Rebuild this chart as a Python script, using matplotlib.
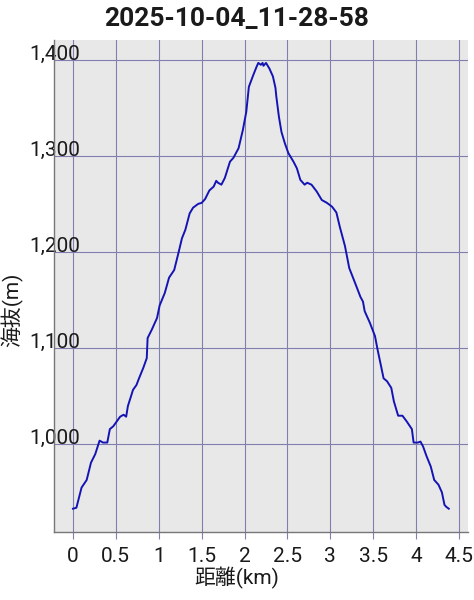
import matplotlib
matplotlib.use("Agg")
import matplotlib.pyplot as plt

# Data (distance km, elevation m)
dist_km = [0.00, 0.04, 0.10, 0.16, 0.21, 0.26, 0.31, 0.35, 0.40, 0.43, 0.47, 0.55, 0.59, 0.62,
           0.64, 0.70, 0.74, 0.77, 0.82, 0.86, 0.87, 0.92, 0.98, 1.01, 1.07, 1.12, 1.18, 1.23,
           1.27, 1.31, 1.36, 1.40, 1.46, 1.50, 1.54, 1.59, 1.64, 1.67, 1.69, 1.73, 1.77, 1.83,
           1.87, 1.93, 1.98, 2.02, 2.05, 2.10, 2.14, 2.16, 2.19, 2.21, 2.22, 2.25, 2.29, 2.33,
           2.36, 2.37, 2.40, 2.43, 2.47, 2.51, 2.57, 2.61, 2.65, 2.70, 2.73, 2.78, 2.84, 2.90,
           2.96, 3.02, 3.07, 3.11, 3.17, 3.22, 3.29, 3.35, 3.38, 3.40, 3.46, 3.52, 3.55, 3.59,
           3.62, 3.66, 3.71, 3.74, 3.79, 3.84, 3.89, 3.95, 3.97, 4.02, 4.05, 4.08, 4.12, 4.17,
           4.21, 4.26, 4.30, 4.33, 4.35, 4.38]
elev_m = [932, 933, 954, 962, 980, 989, 1003, 1001, 1001, 1015, 1018, 1028, 1030, 1028,
          1039, 1056, 1061, 1068, 1079, 1089, 1110, 1119, 1131, 1144, 1157, 1173, 1181, 1199,
          1214, 1223, 1240, 1246, 1250, 1251, 1255, 1264, 1268, 1274, 1272, 1270, 1277, 1294,
          1298, 1308, 1327, 1346, 1372, 1384, 1393, 1397, 1395, 1397, 1394, 1397, 1391, 1383,
          1371, 1362, 1341, 1325, 1313, 1303, 1294, 1287, 1275, 1270, 1272, 1270, 1263, 1254,
          1251, 1247, 1241, 1226, 1206, 1183, 1167, 1153, 1148, 1138, 1126, 1112, 1098, 1081,
          1068, 1065, 1058, 1044, 1029, 1029, 1023, 1015, 1001, 1001, 1002, 997, 987, 976,
          962, 957, 949, 936, 934, 932]

x_ticks = [0, 0.5, 1, 1.5, 2, 2.5, 3, 3.5, 4, 4.5]
x_tick_labels = ["0", "0.5", "1", "1.5", "2", "2.5", "3", "3.5", "4", "4.5"]
y_ticks = [1000, 1100, 1200, 1300, 1400]
y_tick_labels = ["1,000", "1,100", "1,200", "1,300", "1,400"]
title = "2025-10-04_11-28-58"
x_label = "距離(km)"
y_label = "海抜(m)"

plt.rcParams['font.family'] = ['Roboto', 'Noto Sans CJK JP', 'DejaVu Sans']

fig = plt.figure(figsize=(4.74, 6.0), dpi=100)
ax = fig.add_axes([54/474, 1-532/600, (468-54)/474, (532-40)/600])
ax.set_facecolor('#e8e8e8')

grid_c = '#8080b0'
ax.plot(dist_km, elev_m, color='#1414b4', lw=1.4)
ax.set_xlim(-0.221, 4.604)
ax.set_ylim(907.7, 1420.9)
ax.set_xticks(x_ticks)
ax.set_xticklabels(x_tick_labels, fontsize=15, color='#1a1a1a')
ax.set_yticks(y_ticks)
ax.set_yticklabels(y_tick_labels, fontsize=15, color='#1a1a1a', va='baseline')
ax.grid(True, color=grid_c, lw=0.8)
ax.set_axisbelow(True)
ax.tick_params(axis='x', length=5, width=0.8, color=grid_c, pad=5.5)
ax.tick_params(axis='y', length=0, pad=-18.7)
for s in ['top', 'right']:
    ax.spines[s].set_visible(False)
for s in ['left', 'bottom']:
    ax.spines[s].set_color('#777777')
    ax.spines[s].set_linewidth(1.0)

fig.text(237/474, 1-19/600, title, ha='center', va='center', fontsize=19, fontweight='bold',
         color='#1a1a1a')
fig.text(237/474, 1-578/600, x_label, ha='center', va='center', fontsize=15, color='#1a1a1a',
         family=['Roboto', 'Noto Sans CJK JP'])
fig.text(12/474, 1-310/600, y_label, ha='center', va='center', fontsize=15, rotation=90,
         color='#1a1a1a', family=['Roboto', 'Noto Sans CJK JP'])

fig.savefig('out.png', dpi=100)
